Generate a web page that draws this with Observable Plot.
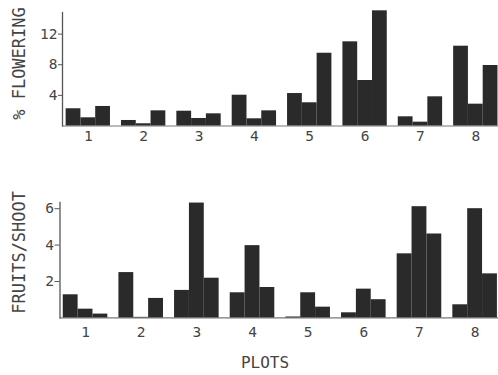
<!DOCTYPE html>
<html><head><meta charset="utf-8">
<script src="https://cdn.jsdelivr.net/npm/d3@7"></script>
<script src="https://cdn.jsdelivr.net/npm/@observablehq/plot@0.6"></script>
<style>
body{margin:0;background:#fff;}
#wrap{position:relative;width:498px;height:375px;font-family:"DejaVu Sans Mono",monospace;color:#444;}
#top{position:absolute;left:0;top:0;}
#bot{position:absolute;left:0;top:190px;}
#xl{position:absolute;top:355px;left:265px;transform:translateX(-50%);font-size:16px;line-height:16px;color:#444;}
svg{overflow:visible;}
</style></head>
<body>
<div id="wrap"><div id="top"></div><div id="bot"></div><div id="xl">PLOTS</div></div>
<script>
const plots = [1, 2, 3, 4, 5, 6, 7, 8];
// % flowering, three bars per plot
const flowA = [2.25, 0.72, 1.93, 4.02, 4.24, 10.99, 1.2, 10.42];
const flowB = [1.07, 0.29, 0.98, 0.94, 3.03, 5.94, 0.5, 2.85];
const flowC = [2.55, 1.98, 1.59, 1.98, 9.5, 15.04, 3.81, 7.9];
// fruits per shoot, three bars per plot
const fruitA = [1.27, 2.49, 1.51, 1.38, 0.05, 0.28, 3.52, 0.72];
const fruitB = [0.48, 0.03, 6.31, 3.97, 1.38, 1.58, 6.11, 6.0];
const fruitC = [0.21, 1.07, 2.18, 1.67, 0.59, 1.0, 4.61, 2.42];
const flowTicks = [4, 8, 12];
const fruitTicks = [2, 4, 6];

function rows(a, b, c) {
  const out = [];
  plots.forEach((p, i) => {
    [a, b, c].forEach((s, k) => out.push({plot: p, k, value: s[i]}));
  });
  return out;
}
const bw = 0.267;
const ink = "#2a2a2a";
const font = "DejaVu Sans Mono, monospace";

function panel(data, opts) {
  return Plot.plot({
    width: 498, height: 150,
    marginLeft: opts.ml, marginRight: 0, marginTop: 12, marginBottom: opts.mb,
    style: {fontFamily: font, fontSize: "14.5px", color: "#444", background: "transparent"},
    x: {type: "linear", domain: opts.xd, axis: null},
    y: {domain: opts.yd, axis: null},
    marks: [
      Plot.ruleY([0], {stroke: "#777", strokeWidth: 1.2}),
      Plot.rectY(data, {
        x1: d => d.plot + (d.k - 1.5) * bw,
        x2: d => d.plot + (d.k - 0.5) * bw,
        y: "value", fill: ink, inset: 0
      }),
      Plot.frame({anchor: "left", stroke: "#555", strokeWidth: 1.3}),
      Plot.axisY({ticks: opts.ticks, tickSize: opts.ts, tickPadding: 1, tickFormat: d => d, stroke: "#555", fill: "#444", label: null}),
      Plot.axisX({ticks: plots, tickSize: 0, tickPadding: opts.tp, tickFormat: d => d, fill: "#444", label: null}),
      Plot.text([opts.label], {
        text: d => d, frameAnchor: "left", y: () => opts.ly, dx: opts.ldx,
        textAnchor: "middle", lineAnchor: "middle",
        rotate: -90, fontSize: 17, fill: "#444"
      })
    ]
  });
}

document.getElementById("top").append(panel(rows(flowA, flowB, flowC), {
  ml: 62, mb: 24.5, xd: [0.534, 8.41], yd: [0, 14.82], ticks: flowTicks, ts: 4, tp: 4.5,
  label: "% FLOWERING", ly: 8.16, ldx: -43
}));
document.getElementById("bot").append(panel(rows(fruitA, fruitB, fruitC), {
  ml: 59.5, mb: 22.6, xd: [0.541, 8.42], yd: [0, 6.34], ticks: fruitTicks, ts: 5, tp: 9,
  label: "FRUITS/SHOOT", ly: 3.6, ldx: -40.5
}));
</script>
</body></html>
